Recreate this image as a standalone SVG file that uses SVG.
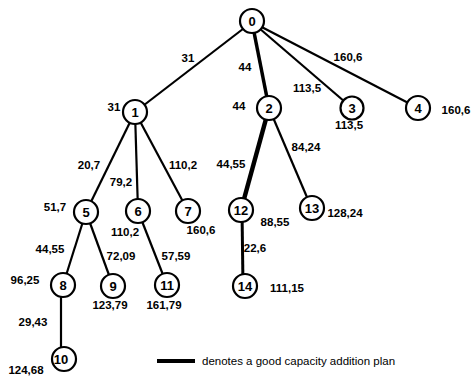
<svg xmlns="http://www.w3.org/2000/svg" width="472" height="378" viewBox="0 0 472 378">
<style>
.e{stroke:#000;stroke-width:2.2;fill:none}
.g2{stroke-width:3.5}
.g3{stroke-width:4.5}
.g1{stroke-width:3}
.n circle{fill:#fff;stroke:#000;stroke-width:2.2}
.n text{font-family:"Liberation Sans",Arial,sans-serif;font-size:13px;font-weight:bold;text-anchor:middle;fill:#000}
.l{font-family:"Liberation Sans",Arial,sans-serif;font-size:11.5px;font-weight:bold;text-anchor:middle;fill:#000}
.lg{font-family:"Liberation Sans",Arial,sans-serif;font-size:11.5px;fill:#000}
</style>
<rect width="472" height="378" fill="#fff"/>
<g id="connectors">
<line class="e" x1="252" y1="22" x2="135" y2="112"/>
<line class="e g2" x1="252" y1="22" x2="269" y2="108"/>
<line class="e" x1="252" y1="22" x2="352" y2="108"/>
<line class="e" x1="252" y1="22" x2="418" y2="108"/>
<line class="e" x1="135" y1="112" x2="86" y2="212"/>
<line class="e" x1="135" y1="112" x2="138" y2="211"/>
<line class="e" x1="135" y1="112" x2="188" y2="211"/>
<line class="e g3" x1="269" y1="108" x2="241" y2="210"/>
<line class="e" x1="269" y1="108" x2="312" y2="209"/>
<line class="e" x1="86" y1="212" x2="63" y2="285"/>
<line class="e" x1="86" y1="212" x2="113" y2="286"/>
<line class="e" x1="138" y1="211" x2="167" y2="285"/>
<line class="e" x1="61" y1="285" x2="61" y2="359"/>
<line class="e g1" x1="242" y1="210" x2="243" y2="286"/>
</g>
<g id="n0" class="n"><circle cx="252" cy="21" r="12"/><text x="252" y="26">0</text></g>
<g id="n1" class="n"><circle cx="135" cy="112" r="12"/><text x="135" y="117">1</text></g>
<g id="n2" class="n"><circle cx="269" cy="108" r="12"/><text x="269" y="113">2</text></g>
<g id="n3" class="n"><circle cx="352" cy="108" r="11.5"/><text x="352" y="113">3</text></g>
<g id="n4" class="n"><circle cx="418" cy="108" r="12"/><text x="418" y="113">4</text></g>
<g id="n5" class="n"><circle cx="86" cy="212" r="12"/><text x="86" y="217">5</text></g>
<g id="n6" class="n"><circle cx="138" cy="211" r="12"/><text x="138" y="216">6</text></g>
<g id="n7" class="n"><circle cx="188" cy="211" r="12"/><text x="188" y="216">7</text></g>
<g id="n8" class="n"><circle cx="63" cy="285" r="12"/><text x="63" y="290">8</text></g>
<g id="n9" class="n"><circle cx="113" cy="286" r="12"/><text x="113" y="291">9</text></g>
<g id="n10" class="n"><circle cx="64" cy="359" r="12"/><text x="61" y="364">10</text></g>
<g id="n11" class="n"><circle cx="167" cy="285" r="12"/><text x="167" y="290">11</text></g>
<g id="n12" class="n"><circle cx="241" cy="210" r="12"/><text x="241" y="215">12</text></g>
<g id="n13" class="n"><circle cx="312" cy="208" r="12"/><text x="312" y="213">13</text></g>
<g id="n14" class="n"><circle cx="245" cy="286" r="12"/><text x="245" y="291">14</text></g>
<g id="labels">
<text class="l" x="188" y="62">31</text>
<text class="l" x="114" y="111">31</text>
<text class="l" x="245" y="71">44</text>
<text class="l" x="239" y="110">44</text>
<text class="l" x="348" y="61">160,6</text>
<text class="l" x="307" y="92">113,5</text>
<text class="l" x="349" y="129">113,5</text>
<text class="l" x="456" y="114">160,6</text>
<text class="l" x="89" y="169">20,7</text>
<text class="l" x="121" y="186">79,2</text>
<text class="l" x="183" y="169">110,2</text>
<text class="l" x="231" y="168">44,55</text>
<text class="l" x="306" y="151">84,24</text>
<text class="l" x="55" y="211">51,7</text>
<text class="l" x="125" y="236">110,2</text>
<text class="l" x="201" y="234">160,6</text>
<text class="l" x="50" y="253">44,55</text>
<text class="l" x="121" y="260">72,09</text>
<text class="l" x="176" y="260">57,59</text>
<text class="l" x="25" y="284">96,25</text>
<text class="l" x="110" y="309">123,79</text>
<text class="l" x="164" y="309">161,79</text>
<text class="l" x="33" y="326">29,43</text>
<text class="l" x="26" y="374">124,68</text>
<text class="l" x="345" y="217">128,24</text>
<text class="l" x="275" y="226">88,55</text>
<text class="l" x="255" y="252">22,6</text>
<text class="l" x="287" y="292">111,15</text>
</g>
<g id="legend">
<line x1="157" y1="361" x2="195" y2="361" stroke="#000" stroke-width="4"/>
<text class="lg" x="202" y="365">denotes a good capacity addition  plan</text>
</g>
</svg>
